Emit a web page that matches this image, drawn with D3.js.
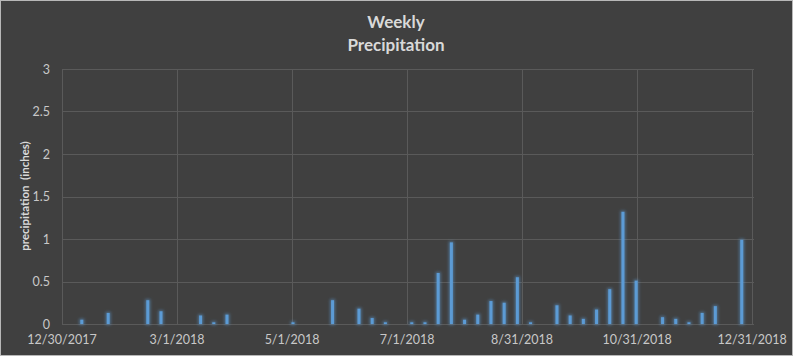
<!DOCTYPE html>
<html><head><meta charset="utf-8">
<script src="https://cdn.jsdelivr.net/npm/d3@7"></script>
<style>
html,body{margin:0;padding:0;background:#404040;}
svg{display:block;}
</style></head>
<body>
<svg id="chart" width="793" height="356"></svg>
<script>
const weekDates = ["2018-01-02","2018-01-09","2018-01-16","2018-01-23","2018-01-30","2018-02-06","2018-02-13","2018-02-20","2018-02-27","2018-03-06","2018-03-13","2018-03-20","2018-03-27","2018-04-03","2018-04-10","2018-04-17","2018-04-24","2018-05-01","2018-05-08","2018-05-15","2018-05-22","2018-05-29","2018-06-05","2018-06-12","2018-06-19","2018-06-26","2018-07-03","2018-07-10","2018-07-17","2018-07-24","2018-07-31","2018-08-07","2018-08-14","2018-08-21","2018-08-28","2018-09-04","2018-09-11","2018-09-18","2018-09-25","2018-10-02","2018-10-09","2018-10-16","2018-10-23","2018-10-30","2018-11-06","2018-11-13","2018-11-20","2018-11-27","2018-12-04","2018-12-11","2018-12-18","2018-12-25"];
const precipitation = [0,0.05,0,0.13,0,0,0.28,0.15,0,0,0.10,0.02,0.11,0,0,0,0,0.02,0,0,0.28,0,0.18,0.07,0.02,0,0.02,0.02,0.60,0.96,0.05,0.11,0.27,0.25,0.55,0.02,0,0.22,0.10,0.06,0.17,0.41,1.32,0.51,0,0.08,0.06,0.02,0.13,0.21,0,0.99];
const xTickDates = ["2017-12-30","2018-03-01","2018-05-01","2018-07-01","2018-08-31","2018-10-31","2018-12-31"];
const xTickLabels = ["12/30/2017","3/1/2018","5/1/2018","7/1/2018","8/31/2018","10/31/2018","12/31/2018"];
const yTicks = [0,0.5,1,1.5,2,2.5,3];
const titleLines = ["Weekly","Precipitation"];
const yTitle = "precipitation  (inches)";

const W = 793, H = 356;
const m = {left:62, right:40, top:69, bottom:32};
const svg = d3.select("#chart");
const parse = d3.utcParse("%Y-%m-%d");
const dayMs = 86400000;

svg.append("rect").attr("x",0.5).attr("y",0.5).attr("width",W-1).attr("height",H-1)
  .attr("fill","#404040").attr("stroke","#b8b8b8").attr("stroke-width",1);

const defs = svg.append("defs");
const f = defs.append("filter").attr("id","glow").attr("x","-200%").attr("y","-50%").attr("width","500%").attr("height","200%");
f.append("feMorphology").attr("in","SourceGraphic").attr("operator","dilate").attr("radius",1).attr("result","d");
f.append("feGaussianBlur").attr("in","d").attr("stdDeviation",1.4).attr("result","b");
f.append("feComponentTransfer").attr("in","b").attr("result","bt")
  .append("feFuncA").attr("type","linear").attr("slope",0.55);
const mg = f.append("feMerge");
mg.append("feMergeNode").attr("in","bt");
mg.append("feMergeNode").attr("in","SourceGraphic");

const x = d3.scaleUtc()
  .domain([parse("2017-12-30"), parse("2019-01-01")])
  .range([m.left, 754]);
const y = d3.scaleLinear().domain([0,3]).range([324, 69]);

const font = "Lato, 'Open Sans', sans-serif";

// gridlines
const grid = svg.append("g");
grid.selectAll("line.h").data(yTicks).join("line")
  .attr("x1",x.range()[0]).attr("x2",x.range()[1])
  .attr("y1",d=>Math.round(y(d))+0.5).attr("y2",d=>Math.round(y(d))+0.5)
  .attr("stroke","#5a5a5a").attr("stroke-width",1);
grid.selectAll("line.v").data(xTickDates).join("line")
  .attr("x1",d=>Math.round(x(parse(d)))+0.5).attr("x2",d=>Math.round(x(parse(d)))+0.5)
  .attr("y1",y(3)).attr("y2",y(0))
  .attr("stroke","#5a5a5a").attr("stroke-width",1);

// y tick labels
svg.append("g").selectAll("text").data(yTicks).join("text")
  .attr("x",50).attr("y",d=>y(d)+4.5)
  .attr("text-anchor","end")
  .attr("font-family",font).attr("font-size",12.5).attr("fill","#c8c8c8")
  .text(d=>d3.format("")(d));

// x tick labels
svg.append("g").selectAll("text").data(xTickDates).join("text")
  .attr("x",d=>x(parse(d))).attr("y",344)
  .attr("text-anchor","middle")
  .attr("font-family",font).attr("font-size",12.5).attr("fill","#c8c8c8")
  .text((d,i)=>xTickLabels[i]);

// bars
const bw = 3;
svg.append("g").attr("filter","url(#glow)")
  .selectAll("rect").data(weekDates.map((d,i)=>({date:parse(d),v:precipitation[i]})).filter(d=>d.v>0))
  .join("rect")
  .attr("x",d=>x(new Date(d.date.getTime()+dayMs/2))-bw/2)
  .attr("y",d=>y(d.v))
  .attr("width",bw)
  .attr("height",d=>y(0)-y(d.v))
  .attr("fill","#5b9bd5");

// title
svg.append("g").selectAll("text").data(titleLines).join("text")
  .attr("x",396).attr("y",(d,i)=>28+i*23)
  .attr("text-anchor","middle")
  .attr("font-family",font).attr("font-weight","bold").attr("font-size",17).attr("fill","#d9d9d9")
  .text(d=>d);

// y title
svg.append("text")
  .attr("transform","translate(29,196) rotate(-90)")
  .attr("text-anchor","middle")
  .style("white-space","pre")
  .attr("font-family",font).attr("font-weight","bold").attr("font-size",11.5).attr("fill","#d9d9d9")
  .text(yTitle);
</script>
</body></html>
